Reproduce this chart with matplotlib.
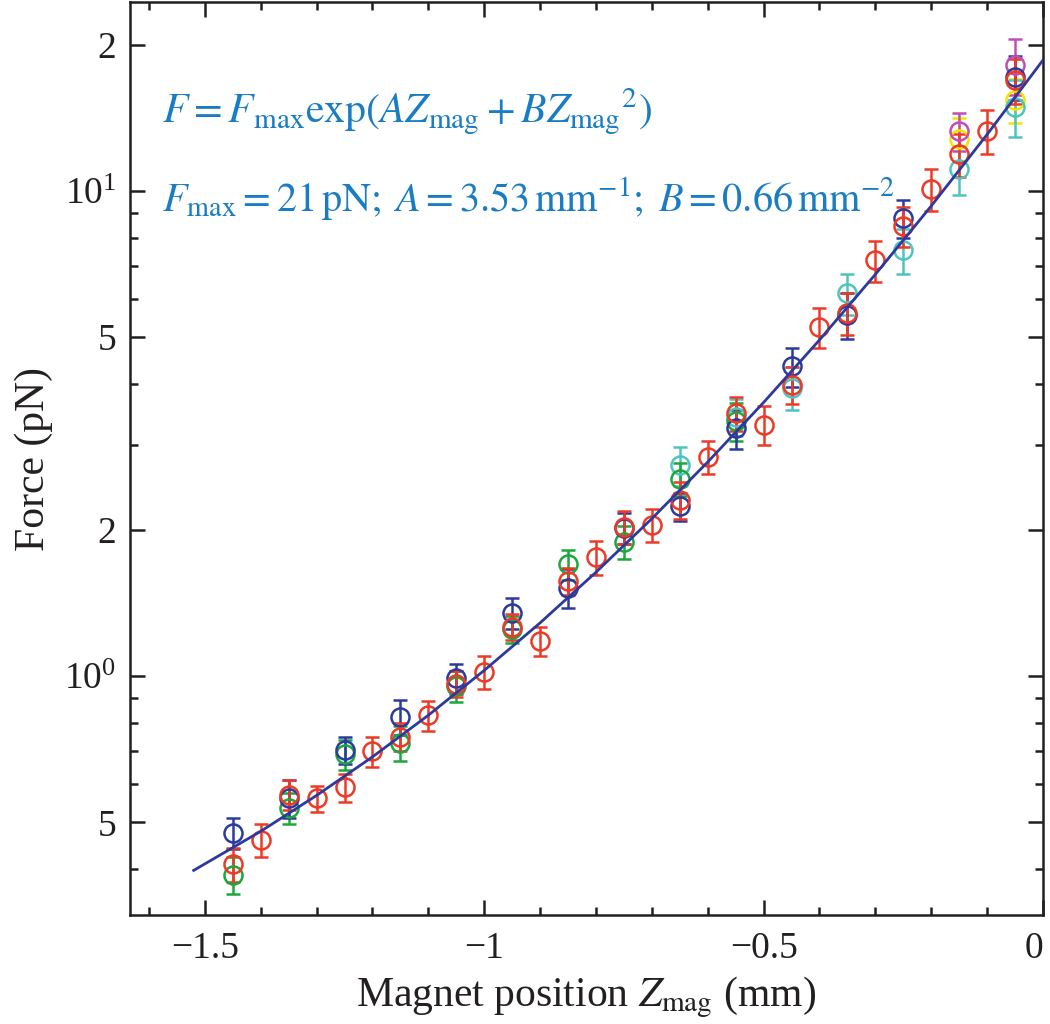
import numpy as np
import matplotlib.pyplot as plt
from matplotlib.ticker import FixedLocator, NullFormatter

plt.rcParams['font.family'] = ['Liberation Serif', 'DejaVu Serif']
plt.rcParams['mathtext.fontset'] = 'stix'

# measured forces (pN) with error bars, one list per bead
x_odd = [-1.45, -1.35, -1.25, -1.15, -1.05, -0.95, -0.85, -0.75, -0.65, -0.55, -0.45, -0.35, -0.25, -0.05]

x_red = [-1.45, -1.40, -1.35, -1.30, -1.25, -1.20, -1.15, -1.10, -1.05, -1.00,
         -0.95, -0.90, -0.85, -0.80, -0.75, -0.70, -0.65, -0.60, -0.55, -0.50,
         -0.45, -0.40, -0.35, -0.30, -0.25, -0.20, -0.15, -0.10, -0.05]
f_red = [0.41, 0.46, 0.57, 0.56, 0.59, 0.70, 0.75, 0.83, 0.965, 1.02,
         1.265, 1.18, 1.57, 1.76, 2.03, 2.05, 2.31, 2.83, 3.48, 3.30,
         3.98, 5.25, 5.60, 7.2, 8.46, 10.1, 11.9, 13.3, 16.9]
e_red = [0.033, 0.035, 0.04, 0.035, 0.04, 0.05, 0.05, 0.06, 0.06, 0.08,
         0.08, 0.08, 0.1, 0.14, 0.16, 0.16, 0.2, 0.22, 0.28, 0.3,
         0.35, 0.5, 0.55, 0.7, 0.8, 1.0, 1.2, 1.4, 1.8]

f_blue = [0.475, 0.56, 0.705, 0.825, 0.99, 1.35, 1.52, 2.02, 2.24, 3.24, 4.35, 5.55, 8.8, 17.2]
e_blue = [0.035, 0.05, 0.045, 0.07, 0.07, 0.1, 0.14, 0.15, 0.15, 0.3, 0.4, 0.6, 0.8, 1.8]

x_green = [-1.45, -1.35, -1.25, -1.15, -1.05, -0.95, -0.85, -0.75, -0.65, -0.55]
f_green = [0.39, 0.535, 0.69, 0.73, 0.955, 1.25, 1.70, 1.89, 2.55, 3.35]
e_green = [0.035, 0.04, 0.05, 0.06, 0.07, 0.08, 0.12, 0.15, 0.2, 0.3]

x_cyan = [-0.65, -0.55, -0.45, -0.35, -0.25, -0.15, -0.05]
f_cyan = [2.72, 3.42, 3.93, 6.15, 7.55, 11.1, 14.9]
e_cyan = [0.25, 0.3, 0.4, 0.6, 0.8, 1.3, 2.0]

x_mag = [-0.15, -0.05]
f_mag = [13.3, 18.2]
e_mag = [1.2, 2.4]

x_yel = [-0.15, -0.05]
f_yel = [12.8, 15.4]
e_yel = [1.3, 1.6]

# fitted curve
x_fit = [-1.52, -1.4, -1.3, -1.2, -1.1, -1.0, -0.9, -0.8, -0.7, -0.6,
         -0.5, -0.4, -0.3, -0.2, -0.1, 0.0]
f_fit = [0.398, 0.479, 0.568, 0.682, 0.831, 1.028, 1.288, 1.638, 2.112, 2.763,
         3.665, 4.93, 6.73, 9.31, 13.07, 18.6]

fig = plt.figure(figsize=(10.5, 10.24), dpi=100)
ax = fig.add_axes([0.1238, 0.1064, 0.8695, 0.8916])

series = [
    (x_yel, f_yel, e_yel, '#f2e600'),
    (x_mag, f_mag, e_mag, '#c04fb4'),
    (x_cyan, f_cyan, e_cyan, '#4ec4c0'),
    (x_green, f_green, e_green, '#1aa83c'),
    (x_odd, f_blue, e_blue, '#2b3a9c'),
    (x_red, f_red, e_red, '#ec3a26'),
]
for xs, fs, es, col in series:
    ax.errorbar(xs, fs, yerr=es, fmt='o', mfc='none', mec=col, ecolor=col,
                ms=13, mew=1.8, elinewidth=1.8, capsize=5, capthick=1.8)

ax.plot(x_fit, f_fit, color='#2b3a9c', lw=2.0, zorder=5)

ax.set_yscale('log')
ax.set_xlim(-1.634, 0)
ax.set_ylim(0.322, 24.5)

ax.xaxis.set_major_locator(FixedLocator([-1.5, -1.0, -0.5, 0.0]))
ax.set_xticklabels(['\u22121.5', '\u22121', '\u22120.5', '0'])
ax.xaxis.set_minor_locator(FixedLocator(np.round(np.arange(-1.6, 0.0, 0.1), 2)))

ax.yaxis.set_major_locator(FixedLocator([0.5, 1, 2, 5, 10, 20]))
ax.set_yticklabels(['5', r'$\mathregular{10^0}$', '2', '5', r'$\mathregular{10^1}$', '2'])
ax.yaxis.set_minor_locator(FixedLocator([0.4, 0.6, 0.7, 0.8, 0.9, 3, 4, 6, 7, 8, 9]))
ax.yaxis.set_minor_formatter(NullFormatter())

ax.tick_params(which='both', direction='in', top=True, right=True, width=1.8,
               labelsize=27, colors='#231f20')
ax.tick_params(which='major', length=11)
ax.tick_params(which='minor', length=6)
ax.tick_params(axis='x', pad=12)
ax.tick_params(axis='y', pad=10)
ax.get_xticklabels()[-1].set_ha('right')
for s in ax.spines.values():
    s.set_linewidth(1.8)
    s.set_color('#231f20')

ax.set_xlabel(r'Magnet position $\mathit{Z}_{\rm mag}$ (mm)', fontsize=30, color='#231f20', labelpad=6)
ax.set_ylabel('Force (pN)', fontsize=30, color='#231f20', labelpad=8)

tc = '#1a7dc4'
ax.text(0.035, 0.88, r'$F = F_{\rm max}\mathrm{exp}(AZ_{\rm mag} + B{Z_{\rm mag}}^{2})$',
        transform=ax.transAxes, fontsize=30, color=tc, va='center', ha='left')
ax.text(0.035, 0.785, r'$F_{\rm max} = 21\,\mathrm{pN};\;A = 3.53\,\mathrm{mm}^{-1};\;B = 0.66\,\mathrm{mm}^{-2}$',
        transform=ax.transAxes, fontsize=29, color=tc, va='center', ha='left')

fig.savefig('out.png', dpi=100)
